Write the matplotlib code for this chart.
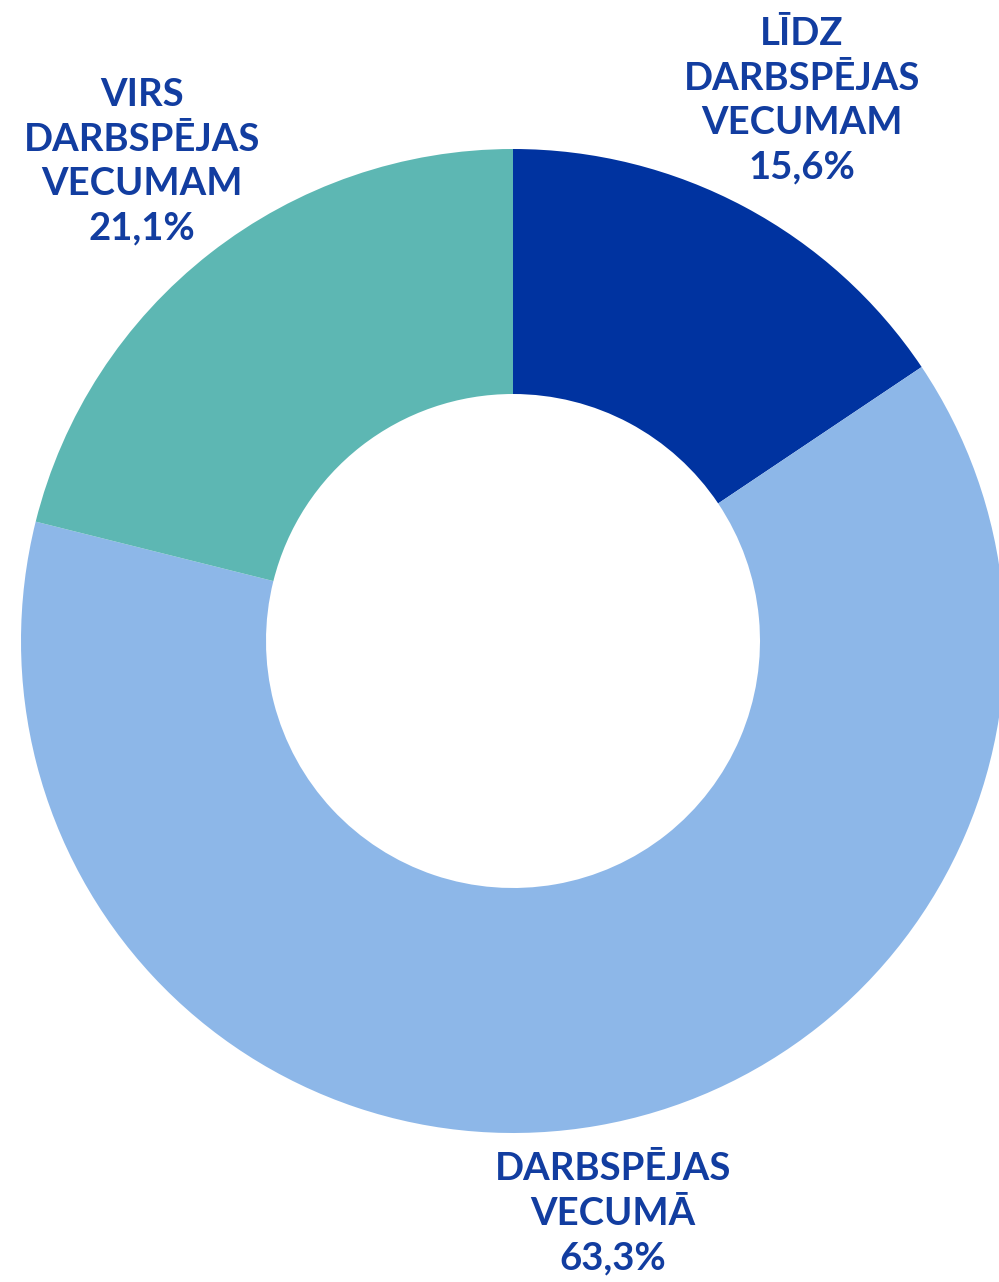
import matplotlib.pyplot as plt

# data
labels = ["LĪDZ\nDARBSPĒJAS\nVECUMAM", "DARBSPĒJAS\nVECUMĀ", "VIRS\nDARBSPĒJAS\nVECUMAM"]
values = [15.6, 63.3, 21.1]
colors = ["#0033A0", "#8DB7E8", "#5DB7B3"]

# label anchors (pixel coords, y measured from top)
label_pos = [(802, 101), (613, 1214), (142, 162)]

W, H = 999, 1282
fig = plt.figure(figsize=(W / 100, H / 100), dpi=100)
ax = fig.add_axes([0, 0, 1, 1])

ax.pie(values, colors=colors, startangle=90, counterclock=False,
       center=(513, H - 641), radius=492,
       wedgeprops=dict(width=245, linewidth=0), frame=True)
ax.set_xlim(0, W)
ax.set_ylim(0, H)
ax.set_aspect("auto")
ax.axis("off")

for lab, v, (x, y) in zip(labels, values, label_pos):
    txt = lab + "\n" + f"{v:.1f}%".replace(".", ",")
    ax.text(x, H - y, txt, ha="center", va="center", fontsize=27.5,
            fontweight="bold", color="#123DA0", family=["Lato", "DejaVu Sans"],
            linespacing=1.38)

fig.savefig("out.png", dpi=100)
